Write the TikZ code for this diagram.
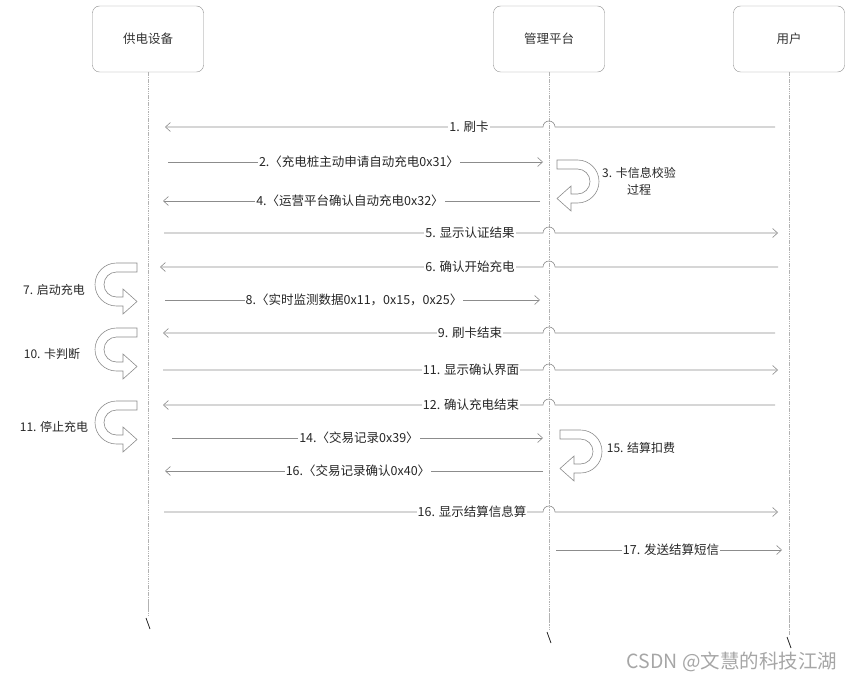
\documentclass[tikz,border=0pt]{standalone}
\usepackage{fontspec}
\setmainfont{Noto Sans CJK SC}
\usetikzlibrary{arrows.meta}

\begin{document}
\begin{tikzpicture}[
    x=1pt, y=-1pt,
    actor/.style={draw=black!45, rounded corners=7pt, minimum width=111pt, minimum height=66pt, font=\fontsize{12.5}{14}\selectfont, text=black!80},
    life/.style={draw=black!30, line width=0.4pt, dash pattern=on 1.5pt off 0.8pt},
    brk/.style={draw=black!85, line width=0.8pt},
    msg/.style={draw=black!45, line width=0.6pt, -{Straight Barb[length=5pt,width=9pt]}},
    lbl/.style={fill=white, inner sep=1pt, text=black!85, font=\fontsize{12.5}{14}\selectfont},
    note/.style={text=black!85, align=center, font=\fontsize{12}{17}\selectfont},
    uline/.style={draw=black!45, line width=0.6pt, fill=white},
    uturn/.pic={
        \draw[uline] (0,0) -- (-20.5,0) arc[start angle=270, end angle=90, radius=21.5]
            -- (-14,43) -- (-14,51) -- (0,38.5) -- (-14,26) -- (-14,34) -- (-20.5,34)
            arc[start angle=90, end angle=270, radius=12.5] -- (-20.5,9) -- (0,9) -- cycle;
    }
]
\useasboundingbox (0,0) rectangle (853,682);

% actors
\node[actor] (dev) at (148,39) {供电设备};
\node[actor] (mgmt) at (549,39) {管理平台};
\node[actor] (user) at (789,39) {用户};

% lifelines with break marks
\coordinate (devend) at (148,616);
\coordinate (mgmtend) at (549,630);
\coordinate (userend) at (789,635);
\draw[life] (dev) -- (devend);
\draw[life] (mgmt) -- (mgmtend);
\draw[life] (user) -- (userend);
\foreach \e in {devend,mgmtend,userend} {
    \draw[brk] ([shift={(-2,2)}]\e) -- ++(4,11);
    \draw[life] ([yshift=16]\e) -- ++(0,8);
}

% message rows
\foreach \n/\y in {1/127, 2/162, 4/201, 5/233, 6/267, 8/300, 9/333, 11/370, 12/405, 14/438, 16a/471, 16b/512, 17/550} {
    \coordinate (L\n) at (148,\y);
    \coordinate (M\n) at (549,\y);
    \coordinate (R\n) at (789,\y);
}

\draw[msg] ([xshift=-14]R1) -- ([xshift=6]M1) arc[start angle=0, end angle=-180, radius=6] -- ([xshift=17]L1);
\draw[msg] ([xshift=20]L2) -- ([xshift=-6]M2);
\draw[msg] ([xshift=-9]M4) -- ([xshift=15]L4);
\draw[msg] ([xshift=16]L5) -- ([xshift=-6]M5) arc[start angle=180, end angle=360, radius=6] -- ([xshift=-11]R5);
\draw[msg] ([xshift=-11]R6) -- ([xshift=6]M6) arc[start angle=0, end angle=-180, radius=6] -- ([xshift=12]L6);
\draw[msg] ([xshift=17]L8) -- ([xshift=-9]M8);
\draw[msg] ([xshift=-14]R9) -- ([xshift=6]M9) arc[start angle=0, end angle=-180, radius=6] -- ([xshift=15]L9);
\draw[msg] ([xshift=15]L11) -- ([xshift=-6]M11) arc[start angle=180, end angle=360, radius=6] -- ([xshift=-11]R11);
\draw[msg] ([xshift=-14]R12) -- ([xshift=6]M12) arc[start angle=0, end angle=-180, radius=6] -- ([xshift=15]L12);
\draw[msg] ([xshift=24]L14) -- ([xshift=-6]M14);
\draw[msg] ([xshift=-6]M16a) -- ([xshift=17]L16a);
\draw[msg] ([xshift=16]L16b) -- ([xshift=-6]M16b) arc[start angle=180, end angle=360, radius=6] -- ([xshift=-11]R16b);
\draw[msg] ([xshift=7]M17) -- ([xshift=-7]R17);

% message labels
\node[lbl] (t1) at (469,127) {1. 刷卡};
\node[lbl] (t2) at (359,162) {2.〈充电桩主动申请自动充电0x31〉};
\node[lbl] (t4) at (350,201) {4.〈运营平台确认自动充电0x32〉};
\node[lbl] (t5) at (470,233) {5. 显示认证结果};
\node[lbl] (t6) at (470,267) {6. 确认开始充电};
\node[lbl] (t8) at (354,300) {8.〈实时监测数据0x11，0x15，0x25〉};
\node[lbl] (t9) at (470,333) {9. 刷卡结束};
\node[lbl] (t11) at (471,370) {11. 显示确认界面};
\node[lbl] (t12) at (471,405) {12. 确认充电结束};
\node[lbl] (t14) at (359,438) {14.〈交易记录0x39〉};
\node[lbl] (t16a) at (358,471) {16.〈交易记录确认0x40〉};
\node[lbl] (t16b) at (472,512) {16. 显示结算信息算};
\node[lbl] (t17) at (671,550) {17. 发送结算短信};

% self actions
\pic at (137,263) {uturn};
\pic at (137,328) {uturn};
\pic at (137,401) {uturn};
\pic[xscale=-1] at (557,160) {uturn};
\pic[xscale=-1] at (560,430) {uturn};
\node[note] (n3) at (639,181) {3. 卡信息校验\\过程};
\node[note] (n7) at (54,290) {7. 启动充电};
\node[note] (n10) at (52,354) {10. 卡判断};
\node[note] (n11) at (54,427) {11. 停止充电};
\node[note] (n15) at (641,448) {15. 结算扣费};

% watermark
\node[text=black!35, font=\fontsize{19.5}{22}\selectfont] (wm) at (732,662) {CSDN @文慧的科技江湖};
\end{tikzpicture}
\end{document}
